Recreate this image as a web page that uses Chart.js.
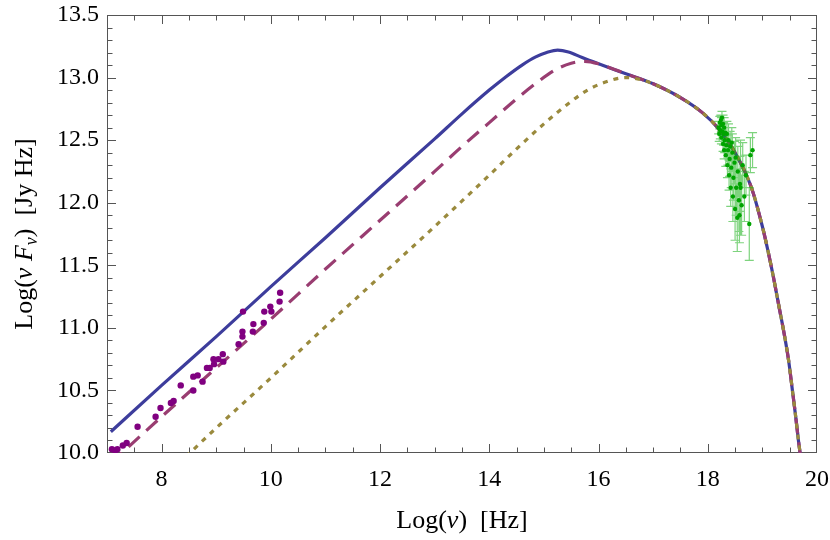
<!DOCTYPE html>
<html><head><meta charset="utf-8">
<script src="https://cdn.jsdelivr.net/npm/chart.js@4.4.0/dist/chart.umd.min.js"></script>
<style>html,body{margin:0;padding:0;background:#fff;}canvas{display:block;}</style>
</head><body>
<canvas id="c" width="830" height="540"></canvas>
<script>
// Axis text
const xTitle = [{t:'Log(',it:false},{t:'ν',it:true},{t:')  [Hz]',it:false}];
const yTitle = [{t:'Log(',it:false},{t:'ν',it:true},{t:' ',it:false},{t:'F',it:true},{t:'ν',it:true,sub:true},{t:')  [Jy Hz]',it:false}];
const xMajor = [8, 10, 12, 14, 16, 18, 20];
const yMajor = [10.0, 10.5, 11.0, 11.5, 12.0, 12.5, 13.0, 13.5];

// Model curves (log nu, log nu F_nu)
const blueX = [7.07, 8, 9, 10, 11, 12, 13, 13.5, 14, 14.3, 14.6, 14.85, 15.05, 15.25, 15.45, 15.7, 16.0, 16.5, 17.0, 17.5, 17.9, 18.2, 18.5, 18.8, 19.0, 19.1, 19.2, 19.3, 19.4, 19.48, 19.55, 19.61, 19.66, 19.69, 19.72];
const blueY = [10.17, 10.54, 10.93, 11.33, 11.72, 12.12, 12.51, 12.71, 12.90, 13.005, 13.10, 13.165, 13.20, 13.22, 13.205, 13.16, 13.11, 13.03, 12.95, 12.84, 12.72, 12.59, 12.40, 12.12, 11.81, 11.62, 11.41, 11.18, 10.95, 10.74, 10.50, 10.29, 10.10, 10.0, 9.88];

const purpleX = [7.07, 8, 9, 10, 11, 12, 13, 13.5, 14, 14.5, 14.9, 15.2, 15.5, 15.75, 16.0, 16.5, 17.0, 17.5, 17.9, 18.2, 18.5, 18.8, 19.0, 19.1, 19.2, 19.3, 19.4, 19.48, 19.55, 19.61, 19.66, 19.69, 19.72];
const purpleY = [9.92, 10.29, 10.68, 11.07, 11.47, 11.86, 12.25, 12.45, 12.64, 12.83, 12.97, 13.06, 13.115, 13.13, 13.11, 13.03, 12.95, 12.84, 12.72, 12.59, 12.40, 12.12, 11.81, 11.62, 11.41, 11.18, 10.95, 10.74, 10.50, 10.29, 10.10, 10.0, 9.88];

const oliveX = [8.3, 9, 10, 11, 12, 13, 14, 14.5, 15, 15.5, 15.8, 16.1, 16.5, 16.8, 17.0, 17.5, 17.9, 18.2, 18.5, 18.8, 19.0, 19.1, 19.2, 19.3, 19.4, 19.48, 19.55, 19.61, 19.66, 19.69, 19.72];
const oliveY = [9.91, 10.20, 10.60, 11.01, 11.41, 11.81, 12.22, 12.43, 12.63, 12.81, 12.90, 12.96, 13.00, 12.98, 12.95, 12.84, 12.72, 12.59, 12.40, 12.12, 11.81, 11.62, 11.41, 11.18, 10.95, 10.74, 10.50, 10.29, 10.10, 10.0, 9.88];

// Radio data (purple dots)
const radioX = [7.09, 7.15, 7.19, 7.29, 7.36, 7.56, 7.89, 7.98, 8.17, 8.22, 8.35, 8.58, 8.58, 8.66, 8.75, 8.83, 8.88, 8.95, 8.96, 9.04, 9.12, 9.13, 9.41, 9.48, 9.48, 9.49, 9.67, 9.68, 9.87, 9.88, 9.99, 10.01, 10.16, 10.17];
const radioY = [10.03, 10.02, 10.03, 10.06, 10.08, 10.21, 10.29, 10.36, 10.40, 10.415, 10.54, 10.50, 10.61, 10.62, 10.57, 10.68, 10.68, 10.75, 10.71, 10.75, 10.79, 10.73, 10.87, 10.93, 10.97, 11.13, 10.97, 11.03, 11.04, 11.13, 11.17, 11.13, 11.21, 11.28];

// X-ray data (green, with error bars)
const xrayX = [18.20, 18.21, 18.22, 18.23, 18.24, 18.25, 18.25, 18.26, 18.27, 18.28, 18.28, 18.29, 18.30, 18.30, 18.31, 18.32, 18.33, 18.34, 18.35, 18.36, 18.37, 18.38, 18.39, 18.40, 18.41, 18.42, 18.43, 18.45, 18.46, 18.47, 18.49, 18.50, 18.52, 18.54, 18.55, 18.57, 18.59, 18.60, 18.62, 18.64, 18.67, 18.70, 18.76, 18.78, 18.82, 18.44, 18.51, 18.58];
const xrayY = [12.60, 12.55, 12.64, 12.58, 12.66, 12.62, 12.52, 12.68, 12.57, 12.63, 12.47, 12.55, 12.60, 12.42, 12.50, 12.56, 12.38, 12.46, 12.55, 12.30, 12.42, 12.50, 12.22, 12.35, 12.45, 12.12, 12.28, 12.40, 12.05, 12.20, 12.32, 11.95, 12.12, 11.88, 12.25, 12.02, 12.15, 12.12, 11.98, 12.30, 12.05, 12.22, 11.83, 12.38, 12.42, 12.48, 12.36, 11.90];
const xrayErr = [0.05, 0.06, 0.05, 0.07, 0.04, 0.06, 0.05, 0.05, 0.08, 0.07, 0.06, 0.09, 0.08, 0.07, 0.10, 0.09, 0.09, 0.11, 0.10, 0.10, 0.12, 0.13, 0.12, 0.14, 0.12, 0.15, 0.16, 0.15, 0.20, 0.18, 0.17, 0.25, 0.22, 0.27, 0.20, 0.25, 0.22, 0.38, 0.24, 0.18, 0.20, 0.16, 0.29, 0.14, 0.14, 0.12, 0.16, 0.22];

const pts = (xs, ys) => xs.map((x, i) => ({x: x, y: ys[i]}));
const SERIF = '"Liberation Serif", "DejaVu Serif", serif';
const FRAME = '#555555';

function drawRich(ctx, segs, cx, cy, size) {
  const fontOf = s => (s.it ? 'italic ' : '') + (s.sub ? Math.round(size * 0.7) : size) + 'px ' + SERIF;
  let total = 0;
  segs.forEach(s => { ctx.font = fontOf(s); total += ctx.measureText(s.t).width; });
  let x = cx - total / 2;
  ctx.textBaseline = 'middle';
  ctx.textAlign = 'left';
  segs.forEach(s => {
    ctx.font = fontOf(s);
    ctx.fillText(s.t, x, cy + (s.sub ? size * 0.28 : 0));
    x += ctx.measureText(s.t).width;
  });
}

const framePlugin = {
  id: 'frame',
  beforeDatasetsDraw(chart) {
    const {ctx, chartArea: a, scales: {x, y}} = chart;
    ctx.save();
    ctx.strokeStyle = FRAME;
    ctx.lineWidth = 1;
    ctx.beginPath();
    x.ticks.forEach(t => {
      const v = t.value;
      if (v <= x.min + 1e-9 || v >= x.max - 1e-9) return;
      const px = Math.round(x.getPixelForValue(v)) + 0.5;
      const len = xMajor.some(m => Math.abs(m - v) < 1e-6) ? 9 : 5.5;
      ctx.moveTo(px, a.bottom); ctx.lineTo(px, a.bottom - len);
      ctx.moveTo(px, a.top); ctx.lineTo(px, a.top + len);
    });
    y.ticks.forEach(t => {
      const v = t.value;
      if (v <= y.min + 1e-9 || v >= y.max - 1e-9) return;
      const py = Math.round(y.getPixelForValue(v)) + 0.5;
      const len = yMajor.some(m => Math.abs(m - v) < 1e-6) ? 9 : 5.5;
      ctx.moveTo(a.left, py); ctx.lineTo(a.left + len, py);
      ctx.moveTo(a.right, py); ctx.lineTo(a.right - len, py);
    });
    ctx.stroke();
    ctx.strokeRect(Math.round(a.left) + 0.5, Math.round(a.top) + 0.5, Math.round(a.right - a.left) - 1, Math.round(a.bottom - a.top) - 1);
    ctx.restore();
  },
  beforeDatasetDraw(chart, args) {
    if (args.index !== 4) return;
    const {ctx, scales: {x, y}} = chart;
    ctx.save();
    ctx.strokeStyle = 'rgba(20,175,20,0.55)';
    ctx.lineWidth = 1.2;
    ctx.beginPath();
    xrayX.forEach((xv, i) => {
      const px = x.getPixelForValue(xv);
      const top = y.getPixelForValue(xrayY[i] + xrayErr[i]);
      const bot = y.getPixelForValue(xrayY[i] - xrayErr[i]);
      ctx.moveTo(px, top); ctx.lineTo(px, bot);
      ctx.moveTo(px - 4.5, top); ctx.lineTo(px + 4.5, top);
      ctx.moveTo(px - 4.5, bot); ctx.lineTo(px + 4.5, bot);
    });
    ctx.stroke();
    ctx.restore();
  },
  afterDraw(chart) {
    const {ctx, chartArea: a} = chart;
    ctx.save();
    ctx.fillStyle = '#000';
    drawRich(ctx, xTitle, (a.left + a.right) / 2, 521, 26);
    ctx.translate(25, (a.top + a.bottom) / 2);
    ctx.rotate(-Math.PI / 2);
    drawRich(ctx, yTitle, 0, 0, 26);
    ctx.restore();
  }
};

const lineBase = {showLine: true, pointRadius: 0, borderWidth: 3.2, cubicInterpolationMode: 'monotone', clip: 0, fill: false};

new Chart(document.getElementById('c'), {
  type: 'scatter',
  data: {
    datasets: [
      Object.assign({label: 'total', data: pts(blueX, blueY), borderColor: '#3d3d9c', order: 5}, lineBase),
      Object.assign({label: 'model 2', data: pts(purpleX, purpleY), borderColor: '#993d71', borderDash: [15, 9], order: 4}, lineBase),
      Object.assign({label: 'model 3', data: pts(oliveX, oliveY), borderColor: '#9a8a3d', borderDash: [5, 6], order: 3}, lineBase),
      {label: 'radio', data: pts(radioX, radioY), showLine: false, pointRadius: 3.2, pointBorderWidth: 0, backgroundColor: '#800080', borderColor: '#800080', order: 2},
      {label: 'X-ray', data: pts(xrayX, xrayY), showLine: false, pointRadius: 2.2, pointBorderWidth: 0, backgroundColor: '#00a400', borderColor: '#00a400', order: 1}
    ]
  },
  options: {
    responsive: false,
    animation: false,
    devicePixelRatio: 1,
    layout: {padding: {top: 15, right: 13, left: 0, bottom: 0}},
    plugins: {legend: {display: false}, tooltip: {enabled: false}},
    scales: {
      x: {
        type: 'linear', min: 7, max: 20,
        grid: {display: false, drawTicks: false},
        border: {display: false},
        ticks: {
          stepSize: 0.5, autoSkip: false, maxRotation: 0, padding: 12,
          color: '#000', font: {family: SERIF, size: 24},
          callback: v => xMajor.some(m => Math.abs(m - v) < 1e-6) ? String(Math.round(v)) : ''
        },
        afterFit: s => { s.height = 87; s.paddingLeft = 0; s.paddingRight = 0; s.paddingTop = 0; s.paddingBottom = 0; }
      },
      y: {
        type: 'linear', min: 10, max: 13.5,
        grid: {display: false, drawTicks: false},
        border: {display: false},
        ticks: {
          stepSize: 0.1, autoSkip: false, padding: 8,
          color: '#000', font: {family: SERIF, size: 24},
          callback: v => yMajor.some(m => Math.abs(m - v) < 1e-6) ? v.toFixed(1) : ''
        },
        afterFit: s => { s.width = 107; s.paddingLeft = 0; s.paddingRight = 0; s.paddingTop = 0; s.paddingBottom = 0; }
      }
    }
  },
  plugins: [framePlugin]
});
</script>
</body></html>
